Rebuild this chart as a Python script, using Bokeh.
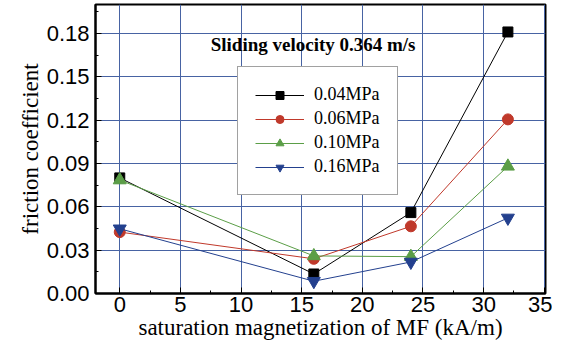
from bokeh.plotting import figure
from bokeh.models import Legend, LegendItem, Label, FixedTicker, NumeralTickFormatter, Range1d
from bokeh.embed import file_html
from bokeh.resources import INLINE

# ---- data ----
magnetization = [0, 16, 24, 32]
series_names = ["0.04MPa", "0.06MPa", "0.10MPa", "0.16MPa"]
friction_004 = [0.080, 0.0135, 0.056, 0.181]
friction_006 = [0.0425, 0.024, 0.0465, 0.1205]
friction_010 = [0.0785, 0.026, 0.0255, 0.088]
friction_016 = [0.0448, 0.0085, 0.0218, 0.0523]
x_ticks = [0, 5, 10, 15, 20, 25, 30, 35]
y_ticks = [0.0, 0.03, 0.06, 0.09, 0.12, 0.15, 0.18]

SERIF = "'Liberation Serif', 'Times New Roman', serif"
SANS = "'Liberation Sans', Arial, sans-serif"

colors = ["#000000", "#c0392b", "#5b9e47", "#23408e"]
markers = ["square", "circle", "triangle", "inverted_triangle"]
sizes = [10, 11, 13, 13]

p = figure(width=552, height=344, output_backend="svg", toolbar_location=None,
           x_range=Range1d(-2, 35.1), y_range=Range1d(0, 0.2),
           min_border_left=95, min_border_right=7, min_border_top=4, min_border_bottom=51)

p.outline_line_color = "black"
p.outline_line_width = 2
p.background_fill_color = "white"
p.border_fill_color = "white"

for ax in (p.xaxis[0], p.yaxis[0]):
    ax.axis_line_width = 2
    ax.axis_line_color = "black"
    ax.major_tick_in = 6
    ax.major_tick_out = 0
    ax.minor_tick_in = 3
    ax.minor_tick_out = 0
    ax.major_tick_line_color = "black"
    ax.minor_tick_line_color = "black"
    ax.major_tick_line_width = 1
    ax.minor_tick_line_width = 1
    ax.major_label_text_font = SANS
    ax.major_label_text_font_size = "22px"
    ax.major_label_text_color = "black"
    ax.axis_label_text_font = SERIF
    ax.axis_label_text_font_size = "23px"
    ax.axis_label_text_font_style = "normal"
    ax.axis_label_text_color = "black"

p.xaxis.ticker = FixedTicker(ticks=x_ticks, minor_ticks=[t + 2.5 for t in x_ticks[:-1]])
p.yaxis.ticker = FixedTicker(ticks=y_ticks, minor_ticks=[t + 0.015 for t in y_ticks])
p.yaxis.formatter = NumeralTickFormatter(format="0.00")
p.xaxis.axis_label = "saturation magnetization of MF (kA/m)"
p.yaxis.axis_label = "friction coefficient"
p.xaxis.major_label_standoff = 3
p.xaxis.axis_label_standoff = 0
p.yaxis.major_label_standoff = 6
p.yaxis.axis_label_standoff = 1

p.grid.grid_line_color = "#4763a3"
p.grid.grid_line_width = 1
p.grid.minor_grid_line_color = None

items = []
for name, ys, c, m, s in zip(series_names,
                             [friction_004, friction_006, friction_010, friction_016],
                             colors, markers, sizes):
    r1 = p.line(magnetization, ys, line_color=c, line_width=1)
    r2 = p.scatter(magnetization, ys, marker=m, size=s, fill_color=c, line_color=c)
    items.append(LegendItem(label=name, renderers=[r1, r2]))

legend = Legend(items=items, location=(142, 98), orientation="vertical",
                glyph_width=49, glyph_height=20, label_standoff=10, spacing=3,
                padding=17, margin=0, label_width=50,
                label_text_font=SERIF, label_text_font_size="18px",
                label_text_color="black", label_height=20,
                border_line_color="#444444", border_line_width=1.5,
                background_fill_color="white", background_fill_alpha=1)
p.add_layout(legend)

p.add_layout(Label(x=7.5, y=0.1725, text="Sliding velocity 0.364 m/s",
                   text_font=SERIF, text_font_style="bold",
                   text_font_size="19px", text_baseline="middle", text_color="black"))

open("out.html", "w").write(file_html(p, INLINE))
